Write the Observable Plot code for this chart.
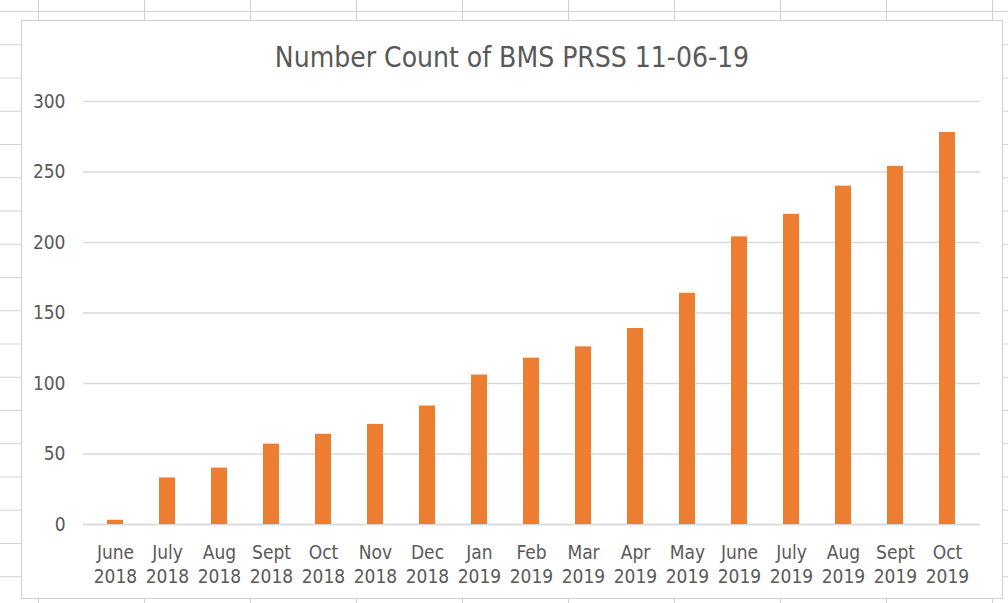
<!DOCTYPE html>
<html>
<head>
<meta charset="utf-8">
<script src="https://cdn.jsdelivr.net/npm/d3@7"></script>
<script src="https://cdn.jsdelivr.net/npm/@observablehq/plot@0.6"></script>
<style>
  html, body { margin: 0; padding: 0; background: #ffffff; }
  #sheet {
    position: relative; width: 1008px; height: 603px; overflow: hidden;
    background-color: #ffffff;
    background-image:
      linear-gradient(to right, #d2d2d2 1px, transparent 1px),
      linear-gradient(to bottom, #d2d2d2 1px, transparent 1px);
    background-size: 106px 33.25px, 106px 33.25px;
    background-position: 38px 0px, 0px 11px;
  }
  #frame {
    position: absolute; left: 21px; top: 20px; width: 980px; height: 577px;
    background: #ffffff; border: 1px solid #d0d0d0;
  }
  #title {
    position: absolute; left: 21px; width: 982px; top: 44px;
    text-align: center; font-family: "Liberation Sans Narrow", "DejaVu Sans Condensed", sans-serif;
    font-size: 28px; line-height: 28px; color: #595959;
  }
  #chart { position: absolute; left: 0; top: 85px; }
</style>
</head>
<body>
<div id="sheet">
  <div id="frame"></div>
  <div id="title">Number Count of BMS PRSS 11-06-19</div>
  <div id="chart"></div>
</div>
<script>
const months = ["June","July","Aug","Sept","Oct","Nov","Dec","Jan","Feb","Mar","Apr","May","June","July","Aug","Sept","Oct"];
const years = ["2018","2018","2018","2018","2018","2018","2018","2019","2019","2019","2019","2019","2019","2019","2019","2019","2019"];
const counts = [3, 33, 40, 57, 64, 71, 84, 106, 118, 126, 139, 164, 204, 220, 240, 254, 278];
const yTicks = [0, 50, 100, 150, 200, 250, 300];

const cats = months.map((m, i) => m + " " + years[i]);
const data = cats.map((c, i) => ({cat: c, count: counts[i]}));

const chart = Plot.plot({
  width: 1008,
  height: 510,
  marginLeft: 83,
  marginRight: 28,
  marginTop: 16,
  marginBottom: 71,
  style: {
    fontFamily: '"Liberation Sans Narrow", "DejaVu Sans Condensed", sans-serif',
    fontSize: "19px",
    color: "#595959",
    background: "transparent"
  },
  x: {domain: cats, paddingInner: 0.683, paddingOuter: 0.3415, axis: null},
  y: {domain: [0, 300], axis: null},
  marks: [
    Plot.gridY(yTicks, {stroke: "#d9d9d9", strokeOpacity: 1, strokeWidth: 1.3}),
    Plot.axisY(yTicks, {tickSize: 0, tickPadding: 18, fill: "#595959", fontSize: 19, label: null}),
    Plot.axisX({tickSize: 0, tickPadding: 18, fill: "#595959", fontSize: 19, lineHeight: 1.25, label: null,
      tickFormat: d => d.replace(" ", "\n")}),
    Plot.ruleY([0], {stroke: "#d9d9d9", strokeWidth: 1.3}),
    Plot.barY(data, {x: "cat", y: "count", fill: "#ED7D31"})
  ]
});
document.getElementById("chart").appendChild(chart);
</script>
</body>
</html>
